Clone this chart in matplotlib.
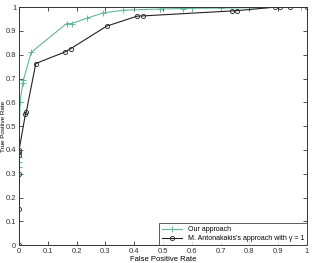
import numpy as np
import matplotlib
matplotlib.use("Agg")
import matplotlib.pyplot as plt

plt.rcParams['font.family'] = ['Liberation Sans', 'DejaVu Sans']

# Our approach (green, '+')
ours_fpr = [0, 0, 0, 0, 0, 0, 0.003, 0.013, 0.015, 0.042, 0.165, 0.183, 0.235, 0.293,
            0.362, 0.49, 0.57, 0.60, 0.70, 0.98, 1.0]
ours_tpr = [0, 0.30, 0.33, 0.35, 0.37, 0.40, 0.60, 0.68, 0.693, 0.81, 0.931, 0.931, 0.953, 0.976,
            0.987, 0.992, 0.994, 0.995, 0.996, 1.0, 1.0]

# M. Antonakakis (black, 'o')
mant_fpr = [0, 0, 0, 0, 0, 0, 0.022, 0.025, 0.058, 0.16, 0.18, 0.304, 0.41, 0.43,
            0.74, 0.756, 0.89, 0.906, 0.94, 1.0]
mant_tpr = [0, 0.15, 0.30, 0.38, 0.39, 0.40, 0.55, 0.56, 0.763, 0.812, 0.826, 0.92, 0.962, 0.963,
            0.984, 0.985, 1.0, 1.0, 1.0, 1.0]

xticks = np.round(np.arange(0, 1.01, 0.1), 1)
yticks = np.round(np.arange(0, 1.01, 0.1), 1)
tick_labels = ['0'] + [f'{t:g}' for t in xticks[1:-1]] + ['1']

fig = plt.figure(figsize=(3.13, 2.63), dpi=100)
ax = fig.add_axes([0.061, 0.068, 0.92, 0.905])

ax.plot(ours_fpr, ours_tpr, color='#5fb89a', lw=0.8, marker='+', ms=4.5, mew=0.7,
        label='Our approach')
ax.plot(mant_fpr, mant_tpr, color='#222222', lw=0.8, marker='o', ms=3, mew=0.6,
        mfc='none', label="M. Antonakakis's approach with \u03b3 = 1")

ax.set_xlim(0, 1)
ax.set_ylim(0, 1)
ax.set_xticks(xticks)
ax.set_yticks(yticks)
ax.set_xticklabels(tick_labels)
ax.set_yticklabels(tick_labels)
ax.tick_params(direction='in', top=True, right=True, length=3, width=0.6,
               labelsize=5.5, pad=2, colors='#333333')
for s in ax.spines.values():
    s.set_linewidth(0.7)
    s.set_color('#333333')

ax.set_xlabel('False Positive Rate', fontsize=5.5, labelpad=1)
ax.set_ylabel('True Positive Rate', fontsize=4.5)
ax.yaxis.set_label_coords(-0.047, 0.5)

leg = ax.legend(loc='lower right', fontsize=5, frameon=True, fancybox=False,
                borderpad=0.4, handlelength=3, borderaxespad=0, labelspacing=0.3)
leg.get_frame().set_edgecolor('#333333')
leg.get_frame().set_linewidth(0.7)

fig.savefig('out.png', dpi=100)
